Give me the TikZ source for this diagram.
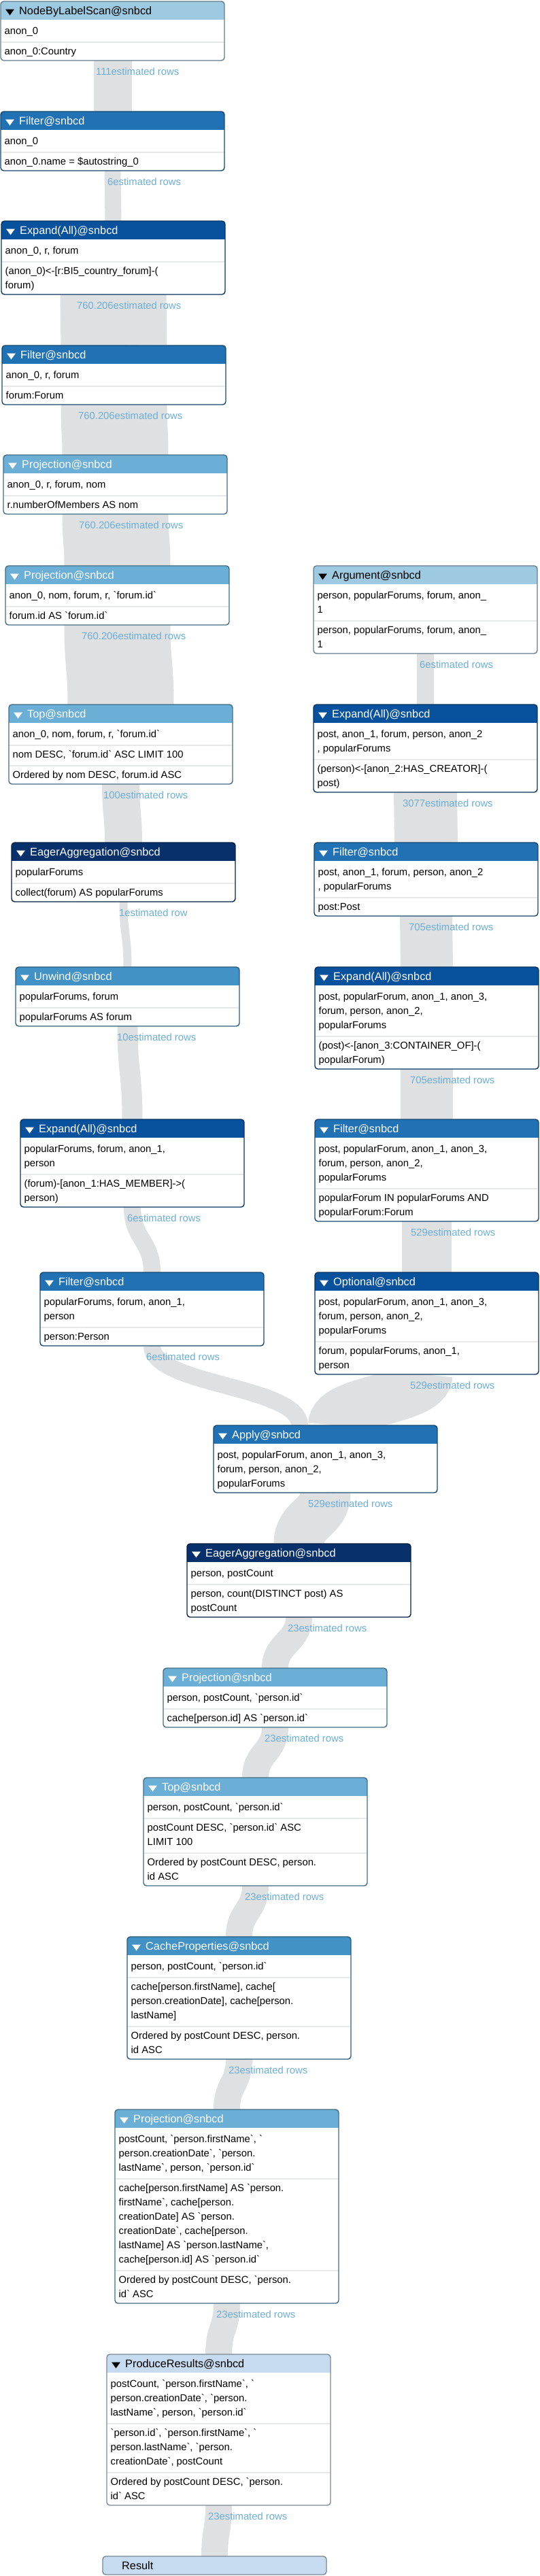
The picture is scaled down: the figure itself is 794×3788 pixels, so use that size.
\documentclass[tikz,border=0pt]{standalone}
\usepackage{fontspec}
\newfontfamily\lsans{Liberation Sans}
\usetikzlibrary{calc}
\definecolor{cA}{HTML}{9ECAE1}
\definecolor{cB}{HTML}{2171B5}
\definecolor{cC}{HTML}{08519C}
\definecolor{cD}{HTML}{6BAED6}
\definecolor{cE}{HTML}{08306B}
\definecolor{cF}{HTML}{4292C6}
\definecolor{cG}{HTML}{C6DBEF}
\definecolor{lblc}{HTML}{6BAED6}
\definecolor{divc}{RGB}{230,232,234}
\definecolor{bandc}{RGB}{222,224,226}
\pgfdeclarelayer{bg}
\pgfsetlayers{bg,main}
\newcommand\hfont{\lsans\fontsize{16.3pt}{20pt}\selectfont}
\newcommand\bfont{\lsans\fontsize{14.8pt}{21pt}\selectfont}
\newcommand\ml[1]{\vtop{\baselineskip=21pt\lineskiplimit=-100pt\lineskip=0pt\def\\{\egroup\hbox\bgroup}\hbox\bgroup#1\egroup}}
\tikzset{
 opshape/.style={rectangle, minimum width=329pt, inner sep=0pt, outer sep=0pt, fill=white, rounded corners=4.5pt},
 hdtext/.style={anchor=base west, inner sep=0pt, font=\hfont},
 bodytext/.style={anchor=base west, inner sep=0pt, font=\bfont, text=black},
 lbl/.style={anchor=base west, inner sep=0pt, font=\bfont, text=lblc},
 divline/.style={draw=divc, line width=2pt},
 band/.style={draw=bandc},
}
\newcommand\opbox[7]{%
 \node[opshape, minimum height=#4pt, anchor=north west] (#1) at (#2,#3) {};
 \begin{scope}
  \clip[rounded corners=4.5pt] (#1.north west) rectangle (#1.south east);
  \fill[#5] (#1.north west) rectangle ([yshift=-27pt]#1.north east);
 \end{scope}
 \draw[draw=#5!62!black, line width=1.4pt, rounded corners=4.5pt] (#1.north west) rectangle (#1.south east);
 \fill[#6] ([xshift=7pt,yshift=-11.5pt]#1.north west) -- ++(13pt,0pt) -- ++(-6.5pt,-9pt) -- cycle;
 \node[hdtext, text=#6] (#1-t) at ([xshift=27pt,yshift=-19.5pt]#1.north west) {#7};
}
\newcommand\opdiv[2]{\draw[divline] ([xshift=1pt,yshift=-#2pt]#1.north west) -- ([xshift=-1pt,yshift=-#2pt]#1.north east);}
\newcommand\optext[4]{\node[bodytext] (#1-#2) at ([xshift=5.5pt,yshift=-#3pt]#1.north west) {\ml{#4}};}
\newcommand\flow[3]{%
 \coordinate (fa) at (#1); \coordinate (fb) at (#2);
 \coordinate (fm) at ($(fa)!0.5!(fb)$);
 \draw[band, line width=#3pt] (fa) .. controls (fa |- fm) and (fb |- fm) .. (fb);
}
\begin{document}
\begin{tikzpicture}[x=1pt,y=-1pt]
\useasboundingbox (0,0) rectangle (794,3788);

% ---- left chain
\opbox{A}{1}{2}{87}{cA}{black}{NodeByLabelScan@snbcd}
\optext{A}{1}{48}{anon\_0}
\opdiv{A}{60}
\optext{A}{2}{78}{anon\_0:Country}

\opbox{B}{1}{164}{87}{cB}{white}{Filter@snbcd}
\optext{B}{1}{48}{anon\_0}
\opdiv{B}{60}
\optext{B}{2}{78}{anon\_0.name = \$autostring\_0}

\opbox{C}{2}{325}{108}{cC}{white}{Expand(All)@snbcd}
\optext{C}{1}{48}{anon\_0, r, forum}
\opdiv{C}{60}
\optext{C}{2}{78}{(anon\_0)<-[r:BI5\_country\_forum]-(\\forum)}

\opbox{D}{3}{508}{87}{cB}{white}{Filter@snbcd}
\optext{D}{1}{48}{anon\_0, r, forum}
\opdiv{D}{60}
\optext{D}{2}{78}{forum:Forum}

\opbox{E}{5}{669}{87}{cD}{white}{Projection@snbcd}
\optext{E}{1}{48}{anon\_0, r, forum, nom}
\opdiv{E}{60}
\optext{E}{2}{78}{r.numberOfMembers AS nom}

\opbox{F}{8}{832}{87}{cD}{white}{Projection@snbcd}
\optext{F}{1}{48}{anon\_0, nom, forum, r, `forum.id`}
\opdiv{F}{60}
\optext{F}{2}{78}{forum.id AS `forum.id`}

\opbox{H}{13}{1036}{117}{cD}{white}{Top@snbcd}
\optext{H}{1}{48}{anon\_0, nom, forum, r, `forum.id`}
\opdiv{H}{60}
\optext{H}{2}{78}{nom DESC, `forum.id` ASC LIMIT 100}
\opdiv{H}{90}
\optext{H}{3}{108}{Ordered by nom DESC, forum.id ASC}

\opbox{J}{17}{1239}{87}{cE}{white}{EagerAggregation@snbcd}
\optext{J}{1}{48}{popularForums}
\opdiv{J}{60}
\optext{J}{2}{78}{collect(forum) AS popularForums}

\opbox{L}{23}{1422}{87}{cF}{white}{Unwind@snbcd}
\optext{L}{1}{48}{popularForums, forum}
\opdiv{L}{60}
\optext{L}{2}{78}{popularForums AS forum}

\opbox{N}{30}{1646}{129}{cC}{white}{Expand(All)@snbcd}
\optext{N}{1}{48}{popularForums, forum, anon\_1,\\person}
\opdiv{N}{81}
\optext{N}{2}{99}{(forum)-[anon\_1:HAS\_MEMBER]->(\\person)}

\opbox{P}{59}{1871}{108}{cB}{white}{Filter@snbcd}
\optext{P}{1}{48}{popularForums, forum, anon\_1,\\person}
\opdiv{P}{81}
\optext{P}{2}{99}{person:Person}

% ---- right chain
\opbox{G}{461}{832}{129}{cA}{black}{Argument@snbcd}
\optext{G}{1}{48}{person, popularForums, forum, anon\_\\1}
\opdiv{G}{81}
\optext{G}{2}{99}{person, popularForums, forum, anon\_\\1}

\opbox{I}{461}{1036}{129}{cC}{white}{Expand(All)@snbcd}
\optext{I}{1}{48}{post, anon\_1, forum, person, anon\_2\\, popularForums}
\opdiv{I}{81}
\optext{I}{2}{99}{(person)<-[anon\_2:HAS\_CREATOR]-(\\post)}

\opbox{K}{462}{1239}{108}{cB}{white}{Filter@snbcd}
\optext{K}{1}{48}{post, anon\_1, forum, person, anon\_2\\, popularForums}
\opdiv{K}{81}
\optext{K}{2}{99}{post:Post}

\opbox{M}{463}{1422}{150}{cC}{white}{Expand(All)@snbcd}
\optext{M}{1}{48}{post, popularForum, anon\_1, anon\_3,\\forum, person, anon\_2,\\popularForums}
\opdiv{M}{102}
\optext{M}{2}{120}{(post)<-[anon\_3:CONTAINER\_OF]-(\\popularForum)}

\opbox{O}{463}{1646}{150}{cB}{white}{Filter@snbcd}
\optext{O}{1}{48}{post, popularForum, anon\_1, anon\_3,\\forum, person, anon\_2,\\popularForums}
\opdiv{O}{102}
\optext{O}{2}{120}{popularForum IN popularForums AND\\popularForum:Forum}

\opbox{Q}{463}{1871}{150}{cC}{white}{Optional@snbcd}
\optext{Q}{1}{48}{post, popularForum, anon\_1, anon\_3,\\forum, person, anon\_2,\\popularForums}
\opdiv{Q}{102}
\optext{Q}{2}{120}{forum, popularForums, anon\_1,\\person}

% ---- merged chain
\opbox{R}{314}{2096}{99}{cB}{white}{Apply@snbcd}
\optext{R}{1}{48}{post, popularForum, anon\_1, anon\_3,\\forum, person, anon\_2,\\popularForums}

\opbox{S}{275}{2270}{108}{cE}{white}{EagerAggregation@snbcd}
\optext{S}{1}{48}{person, postCount}
\opdiv{S}{60}
\optext{S}{2}{78}{person, count(DISTINCT post) AS\\postCount}

\opbox{T}{240}{2453}{87}{cD}{white}{Projection@snbcd}
\optext{T}{1}{48}{person, postCount, `person.id`}
\opdiv{T}{60}
\optext{T}{2}{78}{cache[person.id] AS `person.id`}

\opbox{U}{211}{2614}{159}{cD}{white}{Top@snbcd}
\optext{U}{1}{48}{person, postCount, `person.id`}
\opdiv{U}{60}
\optext{U}{2}{78}{postCount DESC, `person.id` ASC\\LIMIT 100}
\opdiv{U}{111}
\optext{U}{3}{129}{Ordered by postCount DESC, person.\\id ASC}

\opbox{V}{187}{2848}{180}{cF}{white}{CacheProperties@snbcd}
\optext{V}{1}{48}{person, postCount, `person.id`}
\opdiv{V}{60}
\optext{V}{2}{78}{cache[person.firstName], cache[\\person.creationDate], cache[person.\\lastName]}
\opdiv{V}{132}
\optext{V}{3}{150}{Ordered by postCount DESC, person.\\id ASC}

\opbox{W}{169}{3102}{285}{cD}{white}{Projection@snbcd}
\optext{W}{1}{48}{postCount, `person.firstName`, `\\person.creationDate`, `person.\\lastName`, person, `person.id`}
\opdiv{W}{102}
\optext{W}{2}{120}{cache[person.firstName] AS `person.\\firstName`, cache[person.\\creationDate] AS `person.\\creationDate`, cache[person.\\lastName] AS `person.lastName`,\\cache[person.id] AS `person.id`}
\opdiv{W}{237}
\optext{W}{3}{255}{Ordered by postCount DESC, `person.\\id` ASC}

\opbox{X}{157}{3462}{222}{cG}{black}{ProduceResults@snbcd}
\optext{X}{1}{48}{postCount, `person.firstName`, `\\person.creationDate`, `person.\\lastName`, person, `person.id`}
\opdiv{X}{102}
\optext{X}{2}{120}{`person.id`, `person.firstName`, `\\person.lastName`, `person.\\creationDate`, postCount}
\opdiv{X}{174}
\optext{X}{3}{192}{Ordered by postCount DESC, `person.\\id` ASC}

\node[opshape, minimum height=27pt, anchor=north west, fill=cG, draw=cG!62!black, line width=1.4pt] (Y) at (151,3759) {};
\node[hdtext, text=black] (Y-t) at ([xshift=28pt,yshift=-19.5pt]Y.north west) {Result};

\coordinate (Rin1) at ([xshift=-38pt]R.north);
\coordinate (Rin2) at ([xshift=12.5pt]R.north);

% ---- flows
\begin{pgfonlayer}{bg}
\flow{A.south}{B.north}{56}
\flow{B.south}{C.north}{24}
\flow{C.south}{D.north}{156}
\flow{D.south}{E.north}{156}
\flow{E.south}{F.north}{156}
\flow{F.south}{H.north}{156}
\flow{H.south}{J.north}{55}
\flow{J.south}{L.north}{12}
\flow{L.south}{N.north}{30}
\flow{N.south}{P.north}{25}
\flow{P.south}{Rin1}{25}
\flow{G.south}{I.north}{25}
\flow{I.south}{K.north}{93}
\flow{K.south}{M.north}{77}
\flow{M.south}{O.north}{77}
\flow{O.south}{Q.north}{73}
\flow{Q.south}{Rin2}{76}
\flow{R.south}{S.north}{74}
\flow{S.south}{T.north}{39}
\flow{T.south}{U.north}{39}
\flow{U.south}{V.north}{39}
\flow{V.south}{W.north}{39}
\flow{W.south}{X.north}{39}
\flow{X.south}{Y.north}{39}
\end{pgfonlayer}

% ---- row-count labels
\node[lbl] (lA) at (141,110) {111estimated rows};
\node[lbl] (lB) at (158,272) {6estimated rows};
\node[lbl] (lC) at (113,454) {760.206estimated rows};
\node[lbl] (lD) at (115,616) {760.206estimated rows};
\node[lbl] (lE) at (116,777) {760.206estimated rows};
\node[lbl] (lF) at (120,940) {760.206estimated rows};
\node[lbl] (lG) at (617,982) {6estimated rows};
\node[lbl] (lH) at (152,1174) {100estimated rows};
\node[lbl] (lI) at (592,1186) {3077estimated rows};
\node[lbl] (lJ) at (175,1347) {1estimated row};
\node[lbl] (lK) at (601,1368) {705estimated rows};
\node[lbl] (lL) at (172,1530) {10estimated rows};
\node[lbl] (lM) at (603,1593) {705estimated rows};
\node[lbl] (lN) at (187,1796) {6estimated rows};
\node[lbl] (lO) at (604,1817) {529estimated rows};
\node[lbl] (lP) at (215,2000) {6estimated rows};
\node[lbl] (lQ) at (603,2042) {529estimated rows};
\node[lbl] (lR) at (453,2216) {529estimated rows};
\node[lbl] (lS) at (423,2399) {23estimated rows};
\node[lbl] (lT) at (389,2561) {23estimated rows};
\node[lbl] (lU) at (360,2794) {23estimated rows};
\node[lbl] (lV) at (336,3049) {23estimated rows};
\node[lbl] (lW) at (318,3408) {23estimated rows};
\node[lbl] (lX) at (306,3705) {23estimated rows};
\end{tikzpicture}
\end{document}
